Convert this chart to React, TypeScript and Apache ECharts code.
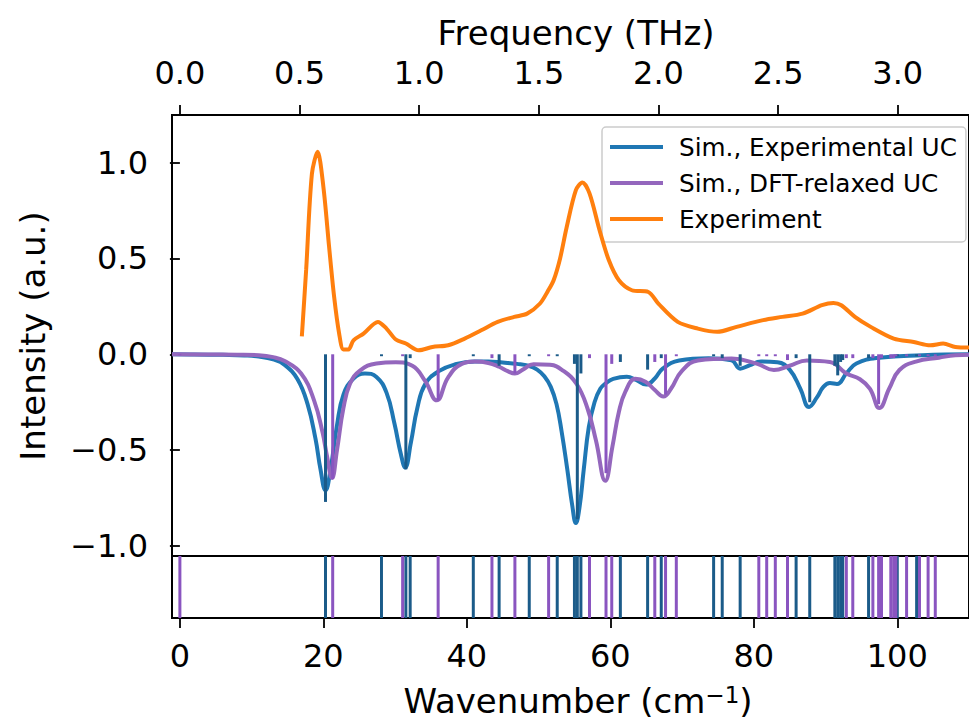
import React, { useEffect, useRef } from "react";
import * as echarts from "echarts";

// ---- Data ----
// Simulated spectrum, experimental unit cell: [wavenumber, intensity]
const simExpUC: [number, number][] = [
  [-1.1, 0], [2, -0.001], [6, -0.003], [9, -0.006], [11, -0.012], [13, -0.027],
  [14.6, -0.055], [16.4, -0.13], [17.8, -0.26], [18.9, -0.44], [19.6, -0.6],
  [20.3, -0.71], [21.0, -0.6], [21.9, -0.37], [22.8, -0.21], [24.2, -0.127],
  [25.8, -0.1], [27.4, -0.118], [28.8, -0.2], [29.9, -0.36], [30.8, -0.52],
  [31.4, -0.59], [32.2, -0.46], [33.1, -0.28], [34.2, -0.155], [36.1, -0.088],
  [38.4, -0.052], [41.1, -0.037], [43, -0.037], [45, -0.043], [47, -0.05],
  [48.6, -0.06], [49.8, -0.08], [50.8, -0.115], [51.7, -0.17], [52.5, -0.26],
  [53.2, -0.4], [54.0, -0.6], [54.7, -0.79], [55.2, -0.88], [55.7, -0.8],
  [56.3, -0.6], [57.0, -0.38], [57.8, -0.25], [58.6, -0.18], [59.4, -0.15],
  [60.4, -0.128], [62.3, -0.117], [63.6, -0.134], [65.0, -0.158], [66.2, -0.126],
  [67.3, -0.075], [69.6, -0.032], [73.7, -0.02], [76.9, -0.032], [78.1, -0.075],
  [79.4, -0.058], [81.0, -0.038], [83.3, -0.042], [85.0, -0.08], [86.5, -0.18],
  [87.7, -0.275], [88.8, -0.225], [89.7, -0.17], [90.6, -0.15], [91.6, -0.155],
  [92.9, -0.1], [94.3, -0.048], [97.5, -0.018], [103.5, -0.005], [110, 0],
];

// Simulated spectrum, DFT-relaxed unit cell
const simDftUC: [number, number][] = [
  [-1.1, 0], [4, -0.001], [8, -0.002], [11, -0.005], [13, -0.015], [14.6, -0.035],
  [16.9, -0.1], [18.7, -0.24], [19.9, -0.41], [20.5, -0.53], [21.2, -0.645],
  [21.9, -0.5], [22.8, -0.28], [23.7, -0.155], [25.1, -0.085], [27.4, -0.048],
  [30.1, -0.042], [32.4, -0.06], [34.2, -0.14], [35.8, -0.24], [37.4, -0.12],
  [39.3, -0.05], [41.1, -0.038], [43, -0.045], [44.5, -0.065], [45.7, -0.088],
  [46.7, -0.1], [47.8, -0.08], [49.3, -0.052], [51.6, -0.055], [53.4, -0.085],
  [55.3, -0.155], [56.8, -0.28], [58.0, -0.45], [59.3, -0.66], [60.3, -0.48],
  [61.2, -0.3], [62.1, -0.195], [63.5, -0.128], [64.9, -0.143], [66.2, -0.186],
  [67.4, -0.22], [68.5, -0.177], [69.9, -0.09], [72.2, -0.032], [76.9, -0.022],
  [80.5, -0.05], [82.8, -0.082], [85.0, -0.06], [87.4, -0.032], [90.6, -0.04],
  [92.9, -0.1], [94.8, -0.13], [96.2, -0.18], [97.5, -0.28], [98.9, -0.177],
  [100.3, -0.082], [102.6, -0.038], [105.8, -0.018], [108.1, -0.005], [110, -0.003],
];

// Measured spectrum
const experiment: [number, number][] = [
  [17.0, 0.094], [17.6, 0.44], [18.4, 0.94], [19.2, 1.056], [20.0, 0.874],
  [20.8, 0.56], [21.5, 0.3], [22.2, 0.108], [22.8, 0.025], [23.5, 0.025],
  [24.2, 0.073], [25.6, 0.108], [27.6, 0.169], [28.8, 0.134], [30.1, 0.077],
  [31.5, 0.056], [33.3, 0.021], [35.2, 0.038], [37.4, 0.047], [39.7, 0.082],
  [42.0, 0.125], [44.3, 0.169], [46.6, 0.195], [48.4, 0.212], [50.2, 0.265],
  [51.3, 0.33], [52.1, 0.386], [53.0, 0.5], [53.9, 0.66], [55.2, 0.856],
  [56.1, 0.896], [57.1, 0.839], [58.5, 0.647], [59.8, 0.49], [61.2, 0.386],
  [63.0, 0.334], [65.3, 0.325], [66.7, 0.264], [69.4, 0.169], [72.2, 0.134],
  [74.9, 0.117], [77.6, 0.143], [81.3, 0.178], [84.0, 0.195], [86.8, 0.212],
  [89.5, 0.256], [91.1, 0.268], [92.2, 0.256], [94.1, 0.195], [96.3, 0.143],
  [99.5, 0.082], [102.3, 0.064], [104.6, 0.047], [106.4, 0.056], [108.1, 0.038],
  [110, 0.035],
];

// Mode positions (cm^-1) and stick depths in the main panel
const expModes = [20.3, 28.1, 31.5, 32.1, 40.9, 44.5, 48.7, 52.6, 55.0, 55.4, 55.9,
  61.4, 65.2, 67.1, 74.4, 75.6, 78.1, 85.9, 87.8, 91.3, 91.7, 92.1, 92.4, 96.0, 100.0, 102.7];
const expStick = [-0.77, -0.01, -0.6, -0.02, -0.01, -0.06, -0.01, -0.01, -0.05, -0.86, -0.1,
  -0.04, -0.08, -0.02, -0.01, -0.02, -0.06, -0.02, -0.25, -0.06, -0.11, -0.04, -0.03, -0.02, -0.01, -0.01];

const dftModes = [0.0, 21.3, 31.05, 36.0, 43.5, 46.7, 51.4, 57.1, 59.4, 60.2, 66.2, 67.7, 69.2,
  80.7, 81.8, 83.0, 84.7, 92.9, 93.8, 96.6, 97.4, 97.8, 99.1, 99.5, 99.8, 101.3, 103.1, 104.3, 105.3];
const dftStick = [-0.005, -0.65, -0.01, -0.24, -0.02, -0.1, -0.01, -0.02, -0.62, -0.05, -0.04, -0.21, -0.01,
  -0.01, -0.01, -0.01, -0.03, -0.02, -0.02, -0.02, -0.26, -0.02, -0.02, -0.02, -0.01, -0.01, -0.01, -0.01, -0.01];

const yTicks = [-1, -0.5, 0, 0.5, 1];
const xTicks = [0, 20, 40, 60, 80, 100];
const thzTicks = [0, 0.5, 1.0, 1.5, 2.0, 2.5, 3.0];

const X_MIN = -1.1;
const X_MAX = 110;
const CM_PER_THZ = 33.356;

const FONT = "DejaVu Sans";
const BLUE = "#1f77b4";
const PURPLE = "#9467bd";
const ORANGE = "#ff7f0e";
const BLUE_STICK = "#1b5b89";
const PURPLE_STICK = "#8a55c0";

const fmtNum = (v: number) => (v < 0 ? "\u2212" + Math.abs(v).toFixed(1) : v.toFixed(1));

function stickRender(color: string, full: boolean) {
  return (params: any, api: any) => {
    const x = api.value(0);
    const d = api.value(1);
    const p0 = api.coord([x, 0]);
    const p1 = api.coord([x, full ? 1 : d]);
    return {
      type: "line",
      shape: { x1: p0[0], y1: p0[1], x2: p1[0], y2: p1[1] },
      style: { stroke: color, lineWidth: 3 },
    };
  };
}

export default function App() {
  const ref = useRef<HTMLDivElement>(null);
  useEffect(() => {
    if (!ref.current) return;
    const chart = echarts.init(ref.current, null, { renderer: "svg" });
    const gridLeft = 172;
    const gridWidth = 808.8;
    const axisLine = { show: false };
    const option: any = {
      animation: false,
      backgroundColor: "#fff",
      textStyle: { fontFamily: FONT },
      grid: [
        { left: gridLeft, top: 115, width: gridWidth, height: 441, show: true, borderColor: "#000", borderWidth: 2, containLabel: false },
        { left: gridLeft, top: 556, width: gridWidth, height: 62, show: true, borderColor: "#000", borderWidth: 2, containLabel: false },
      ],
      xAxis: [
        { type: "value", gridIndex: 0, min: X_MIN, max: X_MAX, axisLine, axisTick: { show: false }, axisLabel: { show: false }, splitLine: { show: false } },
        {
          type: "value", gridIndex: 0, position: "top", min: X_MIN / CM_PER_THZ, max: X_MAX / CM_PER_THZ,
          axisLine, splitLine: { show: false },
          axisTick: { show: true, customValues: thzTicks, length: 10, lineStyle: { color: "#000", width: 1.8 } },
          axisLabel: { customValues: thzTicks, formatter: (v: number) => v.toFixed(1), fontSize: 32, color: "#000", fontFamily: FONT, margin: 26 },
        },
        {
          type: "value", gridIndex: 1, min: X_MIN, max: X_MAX, axisLine, splitLine: { show: false },
          axisTick: { show: true, customValues: xTicks, length: 10, lineStyle: { color: "#000", width: 1.8 } },
          axisLabel: { customValues: xTicks, formatter: (v: number) => String(v), fontSize: 32, color: "#000", fontFamily: FONT, margin: 22 },
        },
      ],
      yAxis: [
        {
          type: "value", gridIndex: 0, min: -1.052, max: 1.248, axisLine, splitLine: { show: false },
          axisTick: { show: true, customValues: yTicks, length: 10, lineStyle: { color: "#000", width: 1.8 } },
          axisLabel: { customValues: yTicks, formatter: fmtNum, fontSize: 32, color: "#000", fontFamily: FONT, margin: 24 },
        },
        { type: "value", gridIndex: 1, min: 0, max: 1, show: false },
      ],
      legend: {
        data: ["Sim., Experimental UC", "Sim., DFT-relaxed UC", "Experiment"],
        orient: "vertical",
        left: 602,
        top: 127,
        icon: "rect",
        itemWidth: 53,
        itemHeight: 4,
        itemGap: 6,
        padding: [5, 9, 8, 8],
        backgroundColor: "rgba(255,255,255,0.8)",
        borderColor: "#cccccc",
        borderWidth: 1.5,
        borderRadius: 4,
        textStyle: { fontSize: 24.7, color: "#000", fontFamily: FONT, lineHeight: 30, padding: [0, 0, 0, 11] },
      },
      series: [
        {
          name: "Sim., Experimental UC", type: "line", xAxisIndex: 0, yAxisIndex: 0, data: simExpUC,
          showSymbol: false, smooth: 0.45, lineStyle: { color: BLUE, width: 4 }, itemStyle: { color: BLUE }, z: 2,
        },
        {
          name: "Sim., DFT-relaxed UC", type: "line", xAxisIndex: 0, yAxisIndex: 0, data: simDftUC,
          showSymbol: false, smooth: 0.45, lineStyle: { color: PURPLE, width: 4 }, itemStyle: { color: PURPLE }, z: 3,
        },
        {
          name: "Experiment", type: "line", xAxisIndex: 0, yAxisIndex: 0, data: experiment,
          showSymbol: false, smooth: 0.3, lineStyle: { color: ORANGE, width: 4 }, itemStyle: { color: ORANGE }, z: 4,
        },
        {
          type: "custom", xAxisIndex: 0, yAxisIndex: 0, z: 5,
          data: expModes.map((m, i) => [m, expStick[i]]),
          renderItem: stickRender(BLUE_STICK, false), silent: true,
        },
        {
          type: "custom", xAxisIndex: 0, yAxisIndex: 0, z: 5,
          data: dftModes.map((m, i) => [m, dftStick[i]]),
          renderItem: stickRender(PURPLE_STICK, false), silent: true,
        },
        {
          type: "custom", xAxisIndex: 2, yAxisIndex: 1, z: 5,
          data: expModes.map((m) => [m, 1]),
          renderItem: stickRender(BLUE_STICK, true), silent: true,
        },
        {
          type: "custom", xAxisIndex: 2, yAxisIndex: 1, z: 6,
          data: dftModes.map((m) => [m, 1]),
          renderItem: stickRender(PURPLE_STICK, true), silent: true,
        },
      ],
      graphic: [
        {
          type: "text", x: 576, y: 33,
          style: { text: "Frequency (THz)", font: `34px "${FONT}"`, fill: "#000", textAlign: "center", textVerticalAlign: "middle" },
        },
        {
          type: "text", x: 578, y: 701,
          style: {
            text: "Wavenumber (cm{sup|\u22121})", font: `34px "${FONT}"`, fill: "#000", textAlign: "center", textVerticalAlign: "middle",
            rich: { sup: { fontSize: 23, fontFamily: FONT, padding: [0, 0, 12, 0], fill: "#000" } },
          },
        },
        {
          type: "text", x: 33, y: 336, rotation: Math.PI / 2,
          style: { text: "Intensity (a.u.)", font: `34px "${FONT}"`, fill: "#000", textAlign: "center", textVerticalAlign: "middle" },
        },
      ],
    };
    chart.setOption(option);
    return () => chart.dispose();
  }, []);
  return <div ref={ref} style={{ position: "fixed", left: 0, top: 0, width: 969, height: 725, background: "#fff" }} />;
}
